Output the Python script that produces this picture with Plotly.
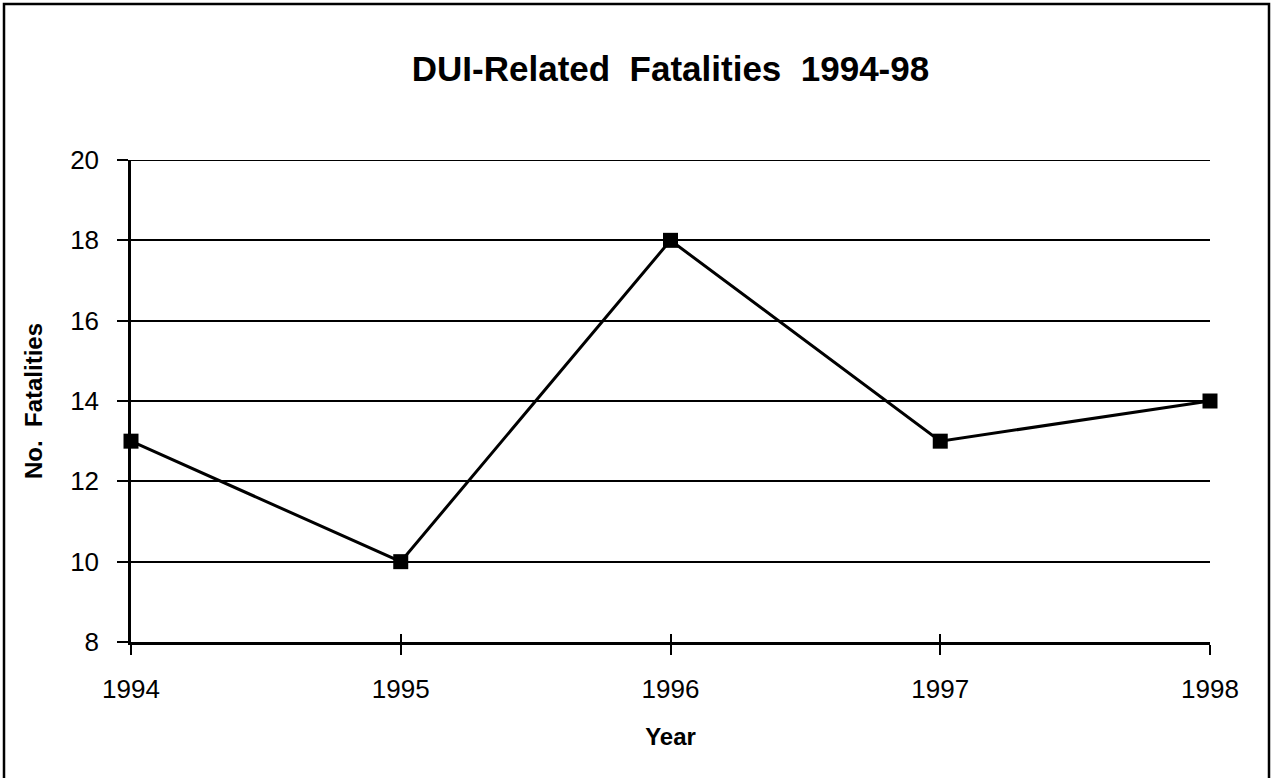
import plotly.graph_objects as go

years = [1994, 1995, 1996, 1997, 1998]
fatalities = [13, 10, 18, 13, 14]
y_ticks = [8, 10, 12, 14, 16, 18, 20]

title_text = "DUI-Related\u00a0\u00a0Fatalities\u00a0\u00a01994-98"
x_title = "Year"
y_title = "No.\u00a0\u00a0Fatalities"

W, H = 1272, 778
L, R, T, B = 131, 62, 160, 136
PW, PH = W - L - R, H - T - B
FONT = "Liberation Sans, Arial, Helvetica, sans-serif"

fig = go.Figure()
fig.add_trace(go.Scatter(
    x=years, y=fatalities, mode="lines+markers",
    line=dict(color="black", width=3),
    marker=dict(symbol="square", size=15, color="black"),
    cliponaxis=False, showlegend=False, hoverinfo="x+y",
))
# invisible trace for the overlay axis (inside ticks)
fig.add_trace(go.Scatter(x=years, y=fatalities, xaxis="x2", yaxis="y",
                         mode="markers", marker=dict(opacity=0),
                         showlegend=False, hoverinfo="skip"))

fig.update_layout(
    width=W, height=H,
    margin=dict(l=L, r=R, t=T, b=B),
    paper_bgcolor="white", plot_bgcolor="white",
    font=dict(family=FONT, color="black", size=26),
    title=dict(text=title_text, x=0.5, xanchor="center", xref="paper",
               y=1 - 69 / H, yanchor="middle", yref="container",
               font=dict(family=FONT, size=35, color="black", weight="bold")),
    xaxis=dict(range=[years[0], years[-1]], tickvals=years,
               ticktext=[str(y) for y in years],
               showgrid=False, zeroline=False,
               showline=True, linecolor="black", linewidth=2.5,
               ticks="outside", ticklen=10, tickwidth=2, tickcolor="black",
               ticklabelstandoff=12,
               tickfont=dict(size=26, family=FONT),
               title=dict(text=x_title, standoff=26,
                          font=dict(size=24, family=FONT, weight="bold"))),
    xaxis2=dict(range=[years[0], years[-1]], tickvals=years, overlaying="x",
                showticklabels=False, showgrid=False, zeroline=False,
                ticks="inside", ticklen=8, tickwidth=2, tickcolor="black",
                side="bottom", showline=False),
    yaxis=dict(range=[y_ticks[0], y_ticks[-1]], tickvals=y_ticks,
               showgrid=True, gridcolor="black", gridwidth=2.2,
               zeroline=False, showline=True, linecolor="black", linewidth=2.5,
               ticks="outside", ticklen=11, tickwidth=2, tickcolor="black",
               ticklabelstandoff=13,
               tickfont=dict(size=26, family=FONT),
               title=dict(text=y_title, standoff=21,
                          font=dict(size=24, family=FONT, weight="bold"))),
    shapes=[
        dict(type="line", xref="paper", yref="y", x0=0, x1=1,
             y0=y_ticks[-1], y1=y_ticks[-1],
             line=dict(color="black", width=2.2), layer="below"),
        dict(type="rect", xref="paper", yref="paper",
             x0=(4 - L) / PW, x1=(1269 - L) / PW,
             y0=-(779.4 - (H - B)) / PH,
             y1=1 + (T - 4) / PH,
             line=dict(color="black", width=2.5), layer="below"),
    ],
)

fig.write_html("out.html",
               config={"displayModeBar": False},
               post_script="document.body.style.margin='0';document.body.style.overflow='hidden';")
